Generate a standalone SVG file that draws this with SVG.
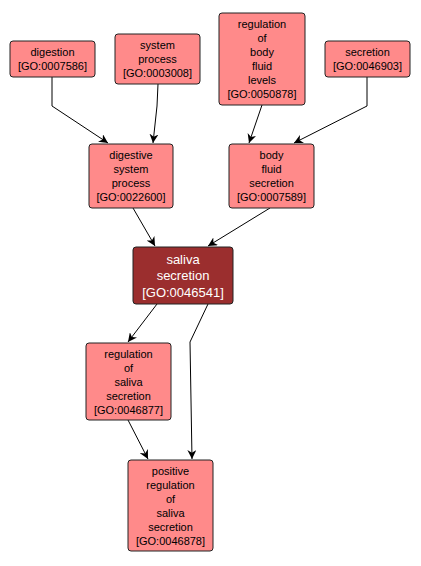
<svg xmlns="http://www.w3.org/2000/svg" width="421" height="566" viewBox="0 0 421 566">
<defs>
<style>
.n rect{fill:#ff8a8a;stroke:#222;stroke-width:1}
.n text{font-family:"Liberation Sans",Arial,sans-serif;font-size:11px;fill:#000;text-anchor:middle}
#saliva rect{fill:#9b2e2e}
#saliva text{fill:#fff;font-size:13px}
.e path{fill:none;stroke:#000;stroke-width:1;marker-end:url(#ah)}
</style>
<marker id="ah" viewBox="0 0 10 10" refX="10" refY="5" markerWidth="9" markerHeight="9" markerUnits="userSpaceOnUse" orient="auto">
<path d="M0,0 L10,5 L0,10 L3,5 z" fill="#000"/>
</marker>
</defs>
<rect width="421" height="566" fill="#fff"/>
<g class="e">
<path d="M52,77 L52,106 L108,143"/>
<path d="M158,84 L157,106 L153,143"/>
<path d="M262,105 L249,143"/>
<path d="M367,77 L367,106 L294,143"/>
<path d="M133,208 L155,246"/>
<path d="M270,208 L208,246"/>
<path d="M157,304 L128,342"/>
<path d="M208,304 L190,342 L192,459"/>
<path d="M128,420 L148,459"/>
</g>
<g id="digestion" class="n"><rect x="10" y="41" width="85" height="36" rx="3"/>
<text x="52.5" y="56">digestion</text><text x="52.5" y="70">[GO:0007586]</text></g>
<g id="system_process" class="n"><rect x="115" y="34" width="85" height="50" rx="3"/>
<text x="157.5" y="49">system</text><text x="157.5" y="63">process</text><text x="157.5" y="77">[GO:0003008]</text></g>
<g id="reg_body_fluid" class="n"><rect x="219" y="13" width="86" height="92" rx="3"/>
<text x="262" y="28">regulation</text><text x="262" y="42">of</text><text x="262" y="56">body</text><text x="262" y="70">fluid</text><text x="262" y="84">levels</text><text x="262" y="98">[GO:0050878]</text></g>
<g id="secretion" class="n"><rect x="325" y="41" width="85" height="36" rx="3"/>
<text x="367.5" y="56">secretion</text><text x="367.5" y="70">[GO:0046903]</text></g>
<g id="digestive" class="n"><rect x="89" y="144" width="84" height="64" rx="3"/>
<text x="131" y="159">digestive</text><text x="131" y="173">system</text><text x="131" y="187">process</text><text x="131" y="201">[GO:0022600]</text></g>
<g id="body_fluid_secretion" class="n"><rect x="229" y="144" width="85" height="64" rx="3"/>
<text x="271.5" y="159">body</text><text x="271.5" y="173">fluid</text><text x="271.5" y="187">secretion</text><text x="271.5" y="201">[GO:0007589]</text></g>
<g id="saliva" class="n"><rect x="133" y="247" width="100" height="57" rx="3"/>
<text x="183" y="264">saliva</text><text x="183" y="280">secretion</text><text x="183" y="297">[GO:0046541]</text></g>
<g id="reg_saliva" class="n"><rect x="86" y="343" width="85" height="77" rx="3"/>
<text x="128.5" y="358">regulation</text><text x="128.5" y="372">of</text><text x="128.5" y="386">saliva</text><text x="128.5" y="400">secretion</text><text x="128.5" y="414">[GO:0046877]</text></g>
<g id="pos_reg_saliva" class="n"><rect x="128" y="460" width="85" height="91" rx="3"/>
<text x="170.5" y="475">positive</text><text x="170.5" y="489">regulation</text><text x="170.5" y="503">of</text><text x="170.5" y="517">saliva</text><text x="170.5" y="531">secretion</text><text x="170.5" y="545">[GO:0046878]</text></g>
</svg>
